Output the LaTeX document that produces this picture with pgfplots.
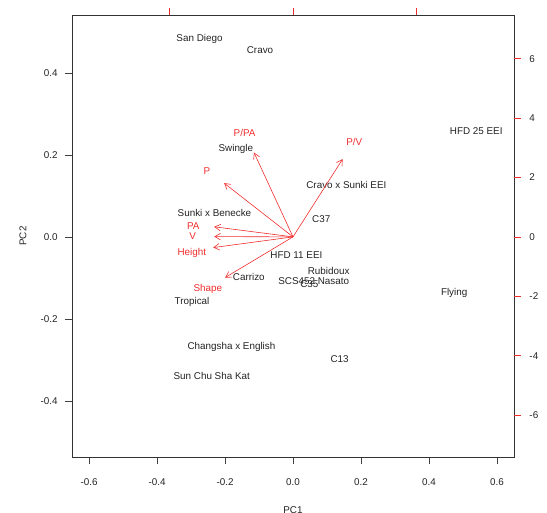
\documentclass[border=0pt]{standalone}
\usepackage{pgfplots}
\usepackage{pgfplotstable}
\usepackage{fontspec}
\setmainfont{Liberation Sans}
\pgfplotsset{compat=1.18}
\usetikzlibrary{arrows.meta}
\definecolor{varred}{RGB}{240,45,45}
\definecolor{txtdark}{RGB}{35,35,35}

% PC scores (label centres)
\pgfplotstableread[col sep=comma]{
x,y,name
-0.275,0.482,San Diego
-0.097,0.456,Cravo
-0.168,0.215,Swingle
-0.231,0.058,Sunki x Benecke
0.539,0.259,HFD 25 EEI
0.157,0.128,Cravo x Sunki EEI
0.083,0.043,C37
0.010,-0.044,HFD 11 EEI
0.105,-0.083,Rubidoux
0.061,-0.107,SCS452 Nasato
0.048,-0.115,C35
0.474,-0.137,Flying
0.137,-0.298,C13
-0.130,-0.097,Carrizo
-0.297,-0.159,Tropical
-0.181,-0.269,Changsha x English
-0.239,-0.339,Sun Chu Sha Kat
}\scores

% variable labels
\pgfplotstableread[col sep=comma]{
x,y,name
-1.96,3.49,P/PA
-3.49,2.20,P
-4.04,0.37,PA
-4.06,0.01,V
-4.10,-0.53,Height
-3.45,-1.74,Shape
2.48,3.21,P/V
}\varlabels

\pgfplotsset{vararrow/.style={varred, line width=0.6pt, mark=none, -{Straight Barb[angle=60:6.5bp]}}}

\begin{document}
\fontsize{9.9}{11.8}\selectfont
\begin{tikzpicture}
\begin{axis}[
  name=ax,
  scale only axis,
  width=442bp, height=442bp,
  xmin=-0.65, xmax=0.65,
  ymin=-0.5366, ymax=0.5415,
  axis line style={black!80, line width=0.7pt},
  xtick={-0.6,-0.4,...,0.6},
  ytick={-0.4,-0.2,0,0.2,0.4},
  xtick pos=bottom, ytick pos=left,
  tick align=outside,
  major tick length=7bp,
  tick style={black!75, line width=0.7pt},
  /pgf/number format/assume math mode=true,
  /pgf/number format/.cd, fixed, fixed zerofill, precision=1, /pgfplots/.cd,
  xticklabel style={yshift=-11bp, text=txtdark},
  yticklabel style={xshift=-4bp, text=txtdark},
  xlabel={PC1}, ylabel={PC2},
  xlabel style={at={(axis description cs:0.5,-0.12)}, anchor=center, text=txtdark},
  ylabel style={at={(axis description cs:-0.111,0.5)}, anchor=center, rotate=0, text=txtdark},
]
\addplot[only marks, mark=none, nodes near coords, point meta=explicit symbolic,
  nodes near coords align=center,
  every node near coord/.append style={anchor=center, inner sep=0pt, text=txtdark}]
  table[x=x, y=y, meta=name] {\scores};
\end{axis}

\begin{axis}[
  at={(ax.south west)}, anchor=south west,
  scale only axis,
  width=442bp, height=442bp,
  xmin=-8.95, xmax=8.95,
  ymin=-7.41, ymax=7.47,
  axis line style={draw=none},
  xtick={-5,0,5}, ytick={-6,-4,...,6},
  xtick pos=right, ytick pos=right,
  yticklabel pos=right,
  xticklabels={},
  tick align=outside,
  major tick length=7bp,
  tick style={varred, line width=0.7pt},
  /pgf/number format/assume math mode=true,
  yticklabel style={xshift=5bp, text=txtdark},
]
\addplot[vararrow] coordinates {(0,0) (-1.58,2.84)};
\addplot[vararrow] coordinates {(0,0) (-2.79,1.81)};
\addplot[vararrow] coordinates {(0,0) (-3.19,0.34)};
\addplot[vararrow] coordinates {(0,0) (-3.19,0.01)};
\addplot[vararrow] coordinates {(0,0) (-3.23,-0.36)};
\addplot[vararrow] coordinates {(0,0) (-2.75,-1.37)};
\addplot[vararrow] coordinates {(0,0) (2.01,2.62)};
\addplot[only marks, mark=none, nodes near coords, point meta=explicit symbolic,
  nodes near coords align=center,
  every node near coord/.append style={anchor=center, inner sep=0pt, text=varred}]
  table[x=x, y=y, meta=name] {\varlabels};
\end{axis}
\pgfresetboundingbox
\path ([shift={(-72bp,-56bp)}]ax.south west) rectangle ([shift={(33bp,15bp)}]ax.north east);
\end{tikzpicture}
\end{document}
